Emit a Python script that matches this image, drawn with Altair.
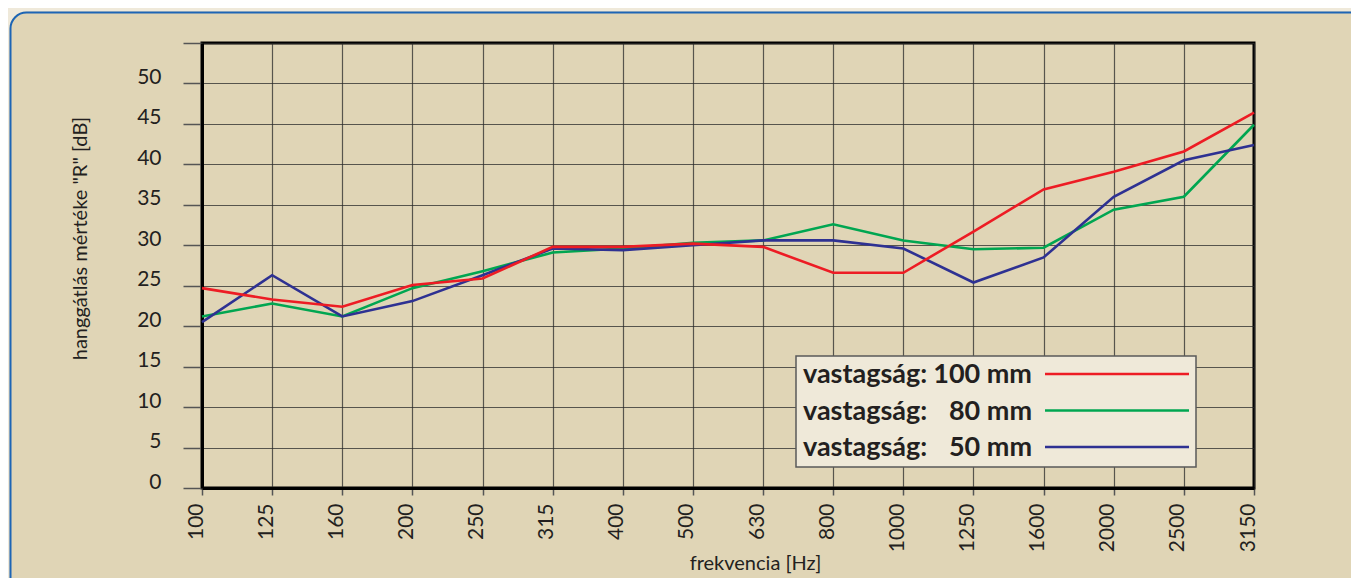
import altair as alt
import pandas as pd

# ---- data ----
freqs = ["100", "125", "160", "200", "250", "315", "400", "500",
         "630", "800", "1000", "1250", "1600", "2000", "2500", "3150"]
r_100 = [24.7, 23.3, 22.4, 25.1, 25.9, 29.8, 29.8, 30.2, 29.8, 26.6, 26.6, 31.7, 36.9, 39.1, 41.6, 46.4]
r_80 = [21.2, 22.8, 21.2, 24.7, 26.8, 29.1, 29.6, 30.3, 30.6, 32.6, 30.6, 29.5, 29.7, 34.4, 36.0, 44.9]
r_50 = [20.5, 26.3, 21.2, 23.1, 26.3, 29.6, 29.4, 30.0, 30.6, 30.6, 29.6, 25.4, 28.5, 36.0, 40.5, 42.4]
series_names = ["100 mm", "80 mm", "50 mm"]
series_colors = ["#ed1c24", "#00a651", "#2e3192"]
legend_prefix = "vastagság:"
y_ticks = [0, 5, 10, 15, 20, 25, 30, 35, 40, 45, 50, 55]

rows = []
for name, vals in [("80 mm", r_80), ("50 mm", r_50), ("100 mm", r_100)]:
    for f, v in zip(freqs, vals):
        rows.append({"freq": f, "R": v, "series": name})
df = pd.DataFrame(rows)
legend_df = pd.DataFrame({"series": series_names, "prefix": [legend_prefix] * 3})

W, H = 1052, 445
FONT = "Lato"
INK = "#231f20"
TAN = "#e0d5b6"
CREAM = "#efe9da"
BLUE = "#1d65b5"
GRID = "#2a2a2a"

color = alt.Color("series:N", scale=alt.Scale(domain=series_names, range=series_colors), legend=None)

one = pd.DataFrame({"k": [0]})

# decorative rounded frame (outer cream band + blue rounded border)
outer = alt.Chart(one).mark_rect(
    fillOpacity=0, stroke=CREAM, strokeWidth=20, cornerRadius=27
).encode(x=alt.value(-202.5), x2=alt.value(1200), y=alt.value(-41.5), y2=alt.value(600))
frame = alt.Chart(one).mark_rect(
    fillOpacity=0, stroke=BLUE, strokeWidth=2, cornerRadius=16
).encode(x=alt.value(-191.5), x2=alt.value(1180), y=alt.value(-30.5), y2=alt.value(580))

lines = alt.Chart(df).mark_line(strokeWidth=2.6).encode(
    x=alt.X("freq:O", sort=freqs, scale=alt.Scale(type="point", padding=0),
            axis=alt.Axis(title="frekvencia [Hz]", labelAngle=270, labelFont=FONT, labelFontSize=21,
                          labelColor=INK, labelPadding=8, labelOffset=-6, labelOverlap=False,
                          tickSize=7, tickColor="#555555", tickWidth=1.5,
                          domainColor="black", domainWidth=3,
                          grid=True, gridColor=GRID, gridOpacity=0.75, gridWidth=1.2,
                          titleFont=FONT, titleFontSize=20, titleFontWeight="normal", titleColor=INK,
                          titleX=553, titleY=81, titleAlign="center", titleBaseline="alphabetic",
                          titleAngle=0)),
    y=alt.Y("R:Q", scale=alt.Scale(domain=[0, 55], nice=False, zero=True),
            axis=alt.Axis(title='hanggátlás mértéke "R" [dB]', values=y_ticks,
                          labelExpr="datum.value >= 55 ? '' : datum.label",
                          labelFont=FONT, labelFontSize=21, labelColor=INK, labelPadding=22,
                          labelBaseline="alphabetic", labelFlush=False, labelOverlap=False,
                          tickSize=19, tickColor="#555555", tickWidth=1.5,
                          domainColor="black", domainWidth=3,
                          grid=True, gridColor=GRID, gridOpacity=0.75, gridWidth=1.2,
                          titleFont=FONT, titleFontSize=20, titleFontWeight="normal", titleColor=INK,
                          titleX=-122, titleY=195, titleAngle=270, titleAlign="center",
                          titleBaseline="middle")),
    color=color,
)

# custom legend box (labels left, line samples right)
leg_y = alt.Y("series:N", sort=series_names,
              scale=alt.Scale(type="point", range=[331, 404], padding=0), axis=None)
leg_box = alt.Chart(one).mark_rect(fill="#efe9d9", stroke="#5a5a5a", strokeWidth=1.5).encode(
    x=alt.value(594), x2=alt.value(994), y=alt.value(313), y2=alt.value(424))
leg_prefix = alt.Chart(legend_df).mark_text(
    align="left", baseline="middle", font=FONT, fontWeight="bold", fontSize=27, color=INK, dy=1
).encode(x=alt.value(601), y=leg_y, text="prefix:N")
leg_value = alt.Chart(legend_df).mark_text(
    align="right", baseline="middle", font=FONT, fontWeight="bold", fontSize=27, color=INK, dy=1
).encode(x=alt.value(830), y=leg_y, text="series:N")
leg_rule = alt.Chart(legend_df).mark_rule(strokeWidth=2.6).encode(
    x=alt.value(843), x2=alt.value(987), y=leg_y, color=color)

chart = alt.layer(
    outer, frame, lines, leg_box, leg_prefix, leg_value, leg_rule
).resolve_scale(y="independent").properties(
    width=W, height=H, background=TAN,
    padding={"left": 194, "top": 35, "right": 97, "bottom": 90},
    autosize=alt.AutoSizeParams(type="none"),
).configure_view(stroke="black", strokeWidth=3)

chart.save("out.html", embed_options={"renderer": "svg", "actions": False})
